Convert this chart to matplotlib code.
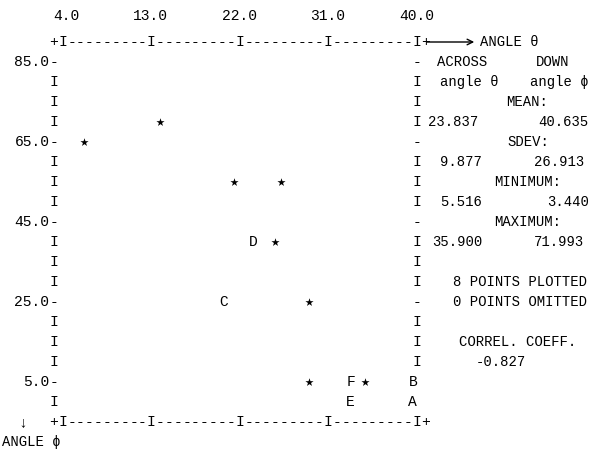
import matplotlib
matplotlib.use("Agg")
import matplotlib.pyplot as plt

plt.rcParams['font.family'] = ['Liberation Mono', 'DejaVu Sans Mono']

# scatter points (stars) and letter markers
star_x = [6.2, 13.9, 21.4, 26.2, 25.6, 29.0, 29.0, 34.7]
star_y = [65, 70, 55, 55, 40, 25, 5, 5]
letters = ['A', 'B', 'C', 'D', 'E', 'F']
letter_x = [39.6, 39.6, 20.4, 23.4, 33.2, 33.3]
letter_y = [0, 5, 25, 40, 0, 5]

x_ticks = [4.0, 13.0, 22.0, 31.0, 40.0]
y_ticks = [85.0, 65.0, 45.0, 25.0, 5.0]

# summary block
mean_xy = [23.837, 40.635]
sdev_xy = [9.877, 26.913]
min_xy = [5.516, 3.440]
max_xy = [35.900, 71.993]
n_plotted = 8
n_omitted = 0
correl = -0.827

W, H = 595, 454
FS = 10.5
FS_INFO = 10
fig = plt.figure(figsize=(W / 100, H / 100), dpi=100)
ax = fig.add_axes([62.7 / W, 32 / H, 354 / W, 380 / H])
ax.set_xlim(4, 40)
ax.set_ylim(-5, 90)
ax.axis('off')

dx = 0.9   # one printer column in x units
dy = 5.0   # one printer row in y units


def at(x, y, s, **kw):
    ax.text(x, y, s, fontsize=FS, ha=kw.pop('ha', 'center'), va='center',
            clip_on=False, **kw)


def ftext(px, py, s, size=FS_INFO, **kw):
    fig.text(px / W, 1 - py / H, s, fontsize=size, ha=kw.pop('ha', 'center'),
             va='center', **kw)


# top and bottom border rows
n_cols = int(round((x_ticks[-1] - x_ticks[0]) / dx)) + 3
for row_y in (90, -5):
    for k in range(n_cols):
        cx = x_ticks[0] - dx + k * dx
        if k == 0 or k == n_cols - 1:
            ch = '+'
        elif any(abs(cx - t) < 1e-6 for t in x_ticks):
            ch = 'I'
        else:
            ch = '-'
        at(cx, row_y, ch)

# x tick labels above the top border (decimal point over the tick)
for t in x_ticks:
    at(t + 1.5 * dx + 0.4, 96.5, f"{t:.1f}", ha='right')

# side borders
left_x = x_ticks[0] - dx
right_x = x_ticks[-1]
rows = [85 - i * dy for i in range(18)]
for ry in rows:
    ch = '-' if ry in y_ticks else 'I'
    at(left_x, ry, ch)
    taken = any(abs(lx - right_x) < dx / 2 and ly == ry
                for lx, ly in zip(letter_x, letter_y))
    if not taken:
        at(right_x, ry, ch)
for t in y_ticks:
    at(left_x - dx / 2, t, f"{t:.1f}", ha='right')

# data
ax.scatter(star_x, star_y, marker='*', s=38, color='black', linewidths=0,
           clip_on=False, zorder=3)
for s, lx, ly in zip(letters, letter_x, letter_y):
    at(lx, ly, s)

# axis names
ax.annotate('', xy=(477 / W, 1 - 42 / H), xytext=(424 / W, 1 - 42 / H),
            xycoords='figure fraction',
            arrowprops=dict(arrowstyle='->', lw=1.0, color='black'))
ftext(480, 42, 'ANGLE θ', ha='left')
ftext(23, 422, '↓', size=FS)
ftext(2, 442, 'ANGLE ϕ', ha='left')

# statistics block
ftext(462, 62, 'ACROSS')
ftext(553, 62, 'DOWN')
ftext(469, 82, 'angle θ')
ftext(559, 82, 'angle ϕ')
ftext(527, 102, 'MEAN:')
ftext(453, 122, f"{mean_xy[0]:.3f}")
ftext(563, 122, f"{mean_xy[1]:.3f}")
ftext(528, 142, 'SDEV:')
ftext(461, 162, f"{sdev_xy[0]:.3f}")
ftext(559, 162, f"{sdev_xy[1]:.3f}")
ftext(528, 182, 'MINIMUM:')
ftext(461, 202, f"{min_xy[0]:.3f}")
ftext(568, 202, f"{min_xy[1]:.3f}")
ftext(528, 222, 'MAXIMUM:')
ftext(457, 242, f"{max_xy[0]:.3f}")
ftext(559, 242, f"{max_xy[1]:.3f}")
ftext(520, 282, f"{n_plotted} POINTS PLOTTED")
ftext(520, 302, f"{n_omitted} POINTS OMITTED")
ftext(518, 342, 'CORREL. COEFF.')
ftext(501, 362, f"{correl:.3f}")

fig.savefig('out.png', dpi=100)
